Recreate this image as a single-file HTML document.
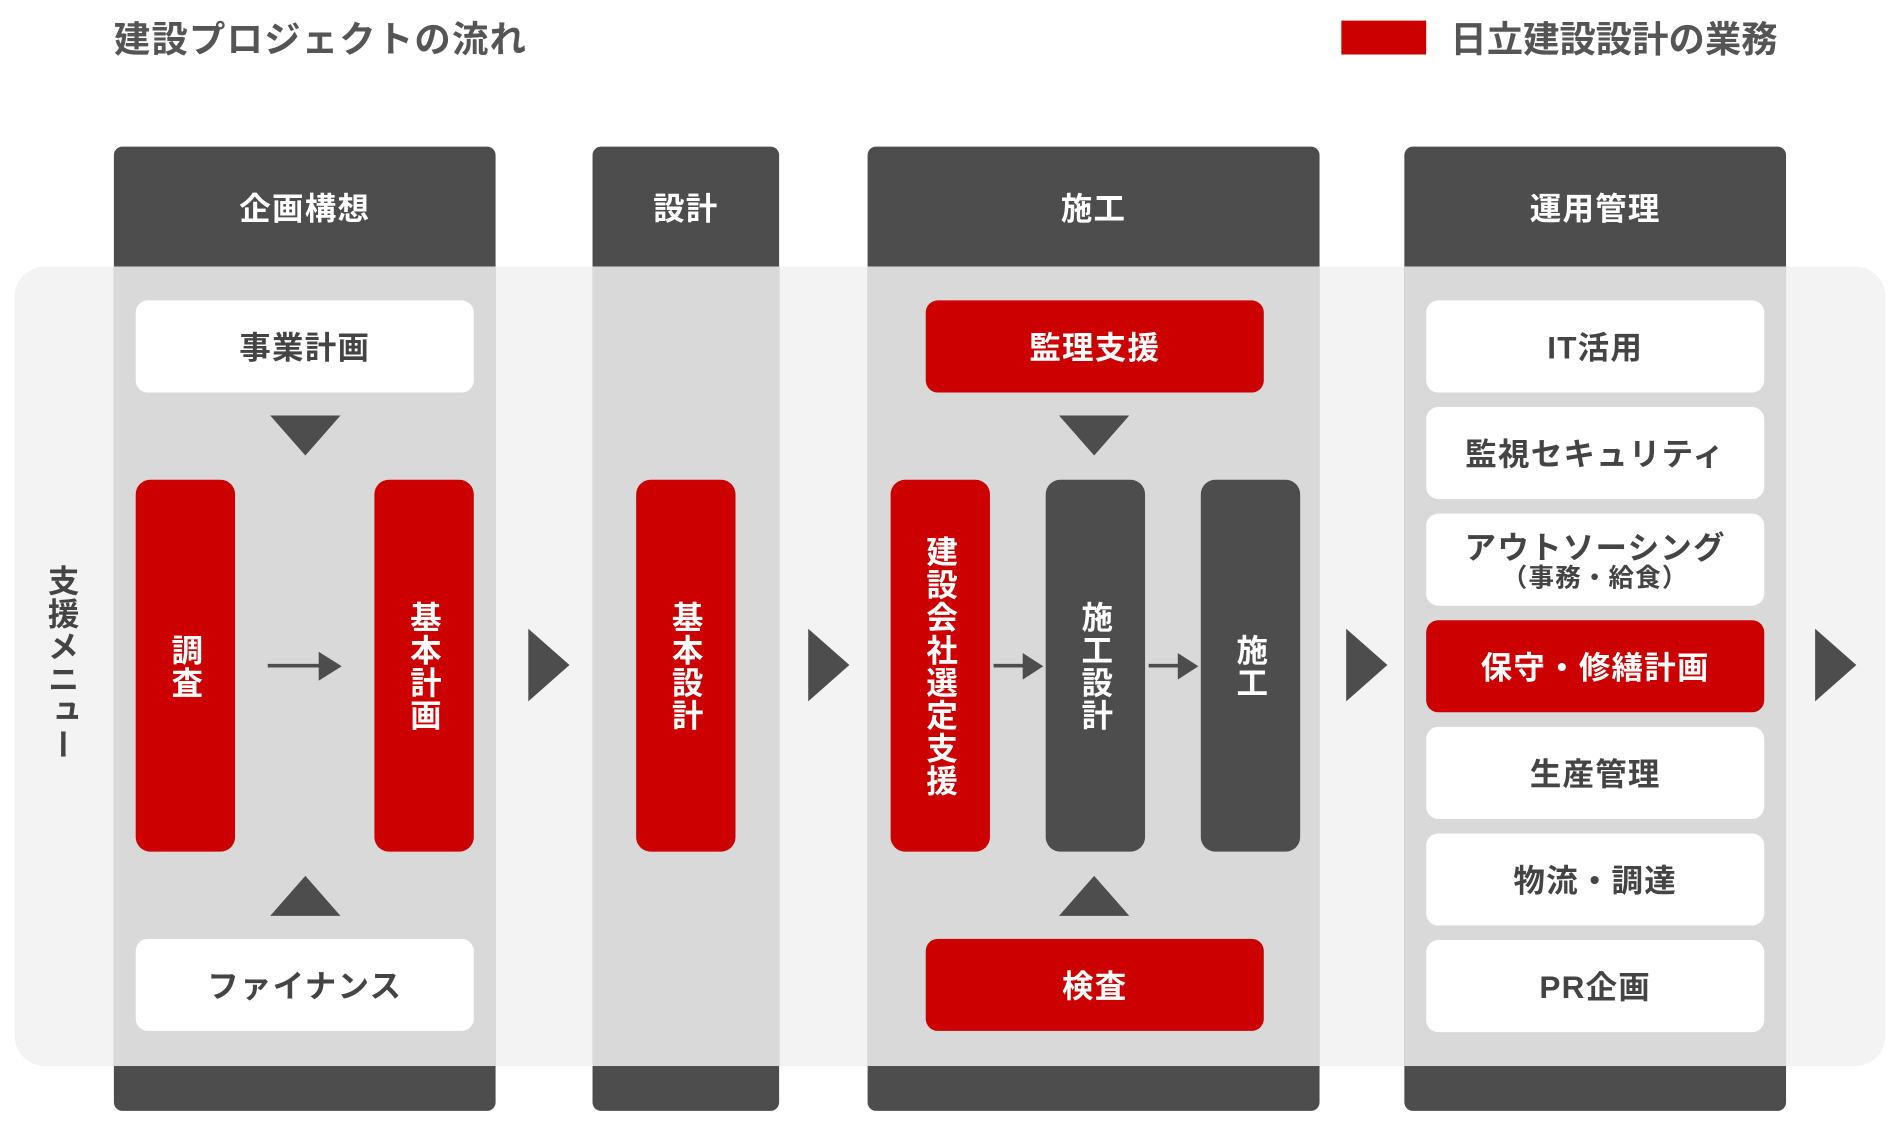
<!DOCTYPE html>
<html><head><meta charset="utf-8"><style>
html,body{margin:0;padding:0;background:#fff;width:1900px;height:1130px;overflow:hidden}
#w{position:absolute;left:0;top:0;width:1568px;height:933px;transform-origin:0 0;transform:scale(1.2117,1.2114);font-family:"Liberation Sans","Noto Sans CJK JP",sans-serif;font-weight:bold}
.a{position:absolute;box-sizing:border-box}
.col{background:#4d4d4d;border-radius:7px}
.mid{background:#d9d9d9}
.hd{color:#fff;font-size:26px;display:flex;align-items:center;justify-content:center;letter-spacing:1px}
.box{background:#fff;border-radius:10px;display:flex;align-items:center;justify-content:center;color:#444;font-size:26px;letter-spacing:1px;flex-direction:column;line-height:1.1;padding-top:3px}
.red{background:#cc0000;color:#fff}
.pill{border-radius:12px;display:flex;align-items:center;justify-content:center;color:#fff;font-size:26px;writing-mode:vertical-rl;line-height:1;letter-spacing:1px}
.dk{background:#4d4d4d}
.tri{position:absolute;width:0;height:0}
</style></head><body><div id="w">
<div class="a" style="left:94px;top:8px;font-size:30px;color:#555;letter-spacing:1px">建設プロジェクトの流れ</div>
<div class="a" style="left:1107px;top:17px;width:70px;height:28px;background:#cc0000"></div>
<div class="a" style="left:1197px;top:8px;font-size:30px;color:#555;letter-spacing:0px">日立建設設計の業務</div>

<div class="a" style="left:12px;top:220px;width:1544px;height:660px;background:#f3f3f3;border-radius:25px"></div>

<div class="a col" style="left:94px;top:121px;width:315px;height:796px"></div>
<div class="a col" style="left:489px;top:121px;width:154px;height:796px"></div>
<div class="a col" style="left:716px;top:121px;width:373px;height:796px"></div>
<div class="a col" style="left:1159px;top:121px;width:315px;height:796px"></div>
<div class="a mid" style="left:94px;top:220px;width:315px;height:660px"></div>
<div class="a mid" style="left:489px;top:220px;width:154px;height:660px"></div>
<div class="a mid" style="left:716px;top:220px;width:373px;height:660px"></div>
<div class="a mid" style="left:1159px;top:220px;width:315px;height:660px"></div>
<div class="a hd" style="left:94px;top:121px;width:315px;height:99px">企画構想</div>
<div class="a hd" style="left:489px;top:121px;width:154px;height:99px">設計</div>
<div class="a hd" style="left:716px;top:121px;width:373px;height:99px">施工</div>
<div class="a hd" style="left:1159px;top:121px;width:315px;height:99px">運用管理</div>

<div class="a" style="left:38px;top:466px;writing-mode:vertical-rl;font-size:26px;color:#444;line-height:1;letter-spacing:1px">支援メニュー</div>

<div class="a box" style="left:112px;top:248px;width:279px;height:76px">事業計画</div>
<div class="tri" style="left:223px;top:343px;border-left:29px solid transparent;border-right:29px solid transparent;border-top:33px solid #4d4d4d"></div>
<div class="a pill red" style="left:112px;top:396px;width:82px;height:307px">調査</div>
<div class="a pill red" style="left:309px;top:396px;width:82px;height:307px">基本計画</div>
<div class="a" style="left:221px;top:548px;width:44px;height:3px;background:#4d4d4d"></div>
<div class="tri" style="left:263px;top:538px;border-top:12px solid transparent;border-bottom:12px solid transparent;border-left:19px solid #4d4d4d"></div>
<div class="tri" style="left:223px;top:723px;border-left:29px solid transparent;border-right:29px solid transparent;border-bottom:33px solid #4d4d4d"></div>
<div class="a box" style="left:112px;top:775px;width:279px;height:76px">ファイナンス</div>

<div class="a pill red" style="left:525px;top:396px;width:82px;height:307px">基本設計</div>

<div class="a box red" style="left:764px;top:248px;width:279px;height:76px;color:#fff">監理支援</div>
<div class="tri" style="left:874px;top:343px;border-left:29px solid transparent;border-right:29px solid transparent;border-top:33px solid #4d4d4d"></div>
<div class="a pill red" style="left:735px;top:396px;width:82px;height:307px">建設会社選定支援</div>
<div class="a pill dk" style="left:863px;top:396px;width:82px;height:307px">施工設計</div>
<div class="a pill dk" style="left:991px;top:396px;width:82px;height:307px">施工</div>
<div class="a" style="left:820px;top:548px;width:26px;height:3px;background:#4d4d4d"></div>
<div class="tri" style="left:844px;top:539px;border-top:11px solid transparent;border-bottom:11px solid transparent;border-left:17px solid #4d4d4d"></div>
<div class="a" style="left:948px;top:548px;width:26px;height:3px;background:#4d4d4d"></div>
<div class="tri" style="left:972px;top:539px;border-top:11px solid transparent;border-bottom:11px solid transparent;border-left:17px solid #4d4d4d"></div>
<div class="tri" style="left:874px;top:723px;border-left:29px solid transparent;border-right:29px solid transparent;border-bottom:33px solid #4d4d4d"></div>
<div class="a box red" style="left:764px;top:775px;width:279px;height:76px;color:#fff">検査</div>

<div class="a box" style="left:1177px;top:248px;width:279px;height:76px">IT活用</div>
<div class="a box" style="left:1177px;top:336px;width:279px;height:76px">監視セキュリティ</div>
<div class="a box" style="left:1177px;top:424px;width:279px;height:76px"><span>アウトソーシング</span><span style="font-size:21px">（事務・給食）</span></div>
<div class="a box red" style="left:1177px;top:512px;width:279px;height:76px;color:#fff">保守・修繕計画</div>
<div class="a box" style="left:1177px;top:600px;width:279px;height:76px">生産管理</div>
<div class="a box" style="left:1177px;top:688px;width:279px;height:76px">物流・調達</div>
<div class="a box" style="left:1177px;top:776px;width:279px;height:76px">PR企画</div>

<div class="tri" style="left:436px;top:519px;border-top:30px solid transparent;border-bottom:30px solid transparent;border-left:34px solid #4d4d4d"></div>
<div class="tri" style="left:667px;top:519px;border-top:30px solid transparent;border-bottom:30px solid transparent;border-left:34px solid #4d4d4d"></div>
<div class="tri" style="left:1111px;top:519px;border-top:30px solid transparent;border-bottom:30px solid transparent;border-left:34px solid #4d4d4d"></div>
<div class="tri" style="left:1498px;top:519px;border-top:30px solid transparent;border-bottom:30px solid transparent;border-left:34px solid #4d4d4d"></div>
</div></body></html>
